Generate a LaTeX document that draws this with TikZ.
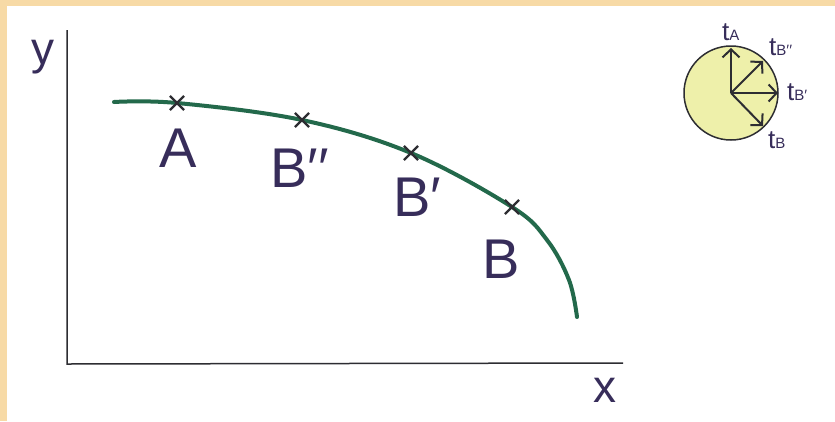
\documentclass[tikz,border=0pt]{standalone}
\usepackage{fontspec}
\setmainfont{Liberation Sans}
\usetikzlibrary{arrows.meta,shapes.misc}
\definecolor{frame}{RGB}{247,218,166}
\definecolor{ink}{RGB}{55,45,90}
\definecolor{axisc}{RGB}{45,45,50}
\definecolor{curvegreen}{RGB}{35,105,75}
\definecolor{disc}{RGB}{238,240,170}
\newcommand\tsub{\fontsize{15}{15}\selectfont}
\begin{document}
\begin{tikzpicture}[x=1pt,y=-1pt,
  axis/.style={draw=axisc,line width=1.5pt},
  lbl/.style={text=ink,font=\fontsize{56}{56}\selectfont,inner sep=0pt},
  axlbl/.style={text=ink,font=\fontsize{46}{46}\selectfont,inner sep=0pt},
  tlbl/.style={text=ink,font=\fontsize{26}{26}\selectfont,inner sep=0pt},
  xmk/.style={cross out,draw=axisc,line width=2.2pt,minimum size=12pt,inner sep=0pt},
  tvec/.style={draw=axisc,line width=2pt,-{Straight Barb[length=8pt,width=17pt]}},
  pathcurve/.style={draw=curvegreen,line width=4pt,line cap=round}]
\fill[frame] (0,0) rectangle (835,421);
\fill[white] (7,6) rectangle (835,421);
\useasboundingbox (0,0) rectangle (835,421);
% axes
\coordinate (ytop) at (67,30);
\coordinate (orig) at (67,364);
\coordinate (xend) at (623,363);
\draw[axis] (ytop) -- (orig) -- (xend);
\node[axlbl,anchor=base] (ylab) at (43,64) {y};
\node[axlbl,anchor=base] (xlab) at (605,402) {x};
% curve
\coordinate (c0) at (114,102);
\coordinate (pA) at (177,103);
\coordinate (pBpp) at (302,120);
\coordinate (pBp) at (411,153);
\coordinate (pB) at (512,207);
\coordinate (c1) at (547,240);
\coordinate (c2) at (569,280);
\coordinate (c3) at (577,317);
\draw[pathcurve] plot[smooth,tension=0.6] coordinates {(c0) (pA) (pBpp) (pBp) (pB) (c1) (c2) (c3)};
\node[xmk] (mA) at (pA) {};
\node[xmk] (mBpp) at (pBpp) {};
\node[xmk] (mBp) at (pBp) {};
\node[xmk] (mB) at (pB) {};
\node[lbl,anchor=base] (lA) at (178,167) {A};
\node[lbl,anchor=base west] (lBpp) at (270,187) {B′′};
\node[lbl,anchor=base west] (lBp) at (393,216) {B′};
\node[lbl,anchor=base] (lB) at (501,278) {B};
% tangent circle
\node[circle,draw=axisc,line width=1.5pt,fill=disc,minimum size=94pt,inner sep=0pt] (disc) at (731,93) {};
\coordinate (O) at (731,93);
\coordinate (tipA) at (731,48);
\coordinate (tipBpp) at (763,61);
\coordinate (tipBp) at (778,93);
\coordinate (tipB) at (763,126);
\draw[tvec] (O) -- (tipA);
\draw[tvec] (O) -- (tipBpp);
\draw[tvec] (O) -- (tipBp);
\draw[tvec] (O) -- (tipB);
\node[tlbl,anchor=base west] (ltA) at (722,40) {t{\tsub A}};
\node[tlbl,anchor=base west] (ltBpp) at (769,55) {t{\tsub B′′}};
\node[tlbl,anchor=base west] (ltBp) at (787,100) {t{\tsub B′}};
\node[tlbl,anchor=base west] (ltB) at (768,148) {t{\tsub B}};
\end{tikzpicture}
\end{document}
